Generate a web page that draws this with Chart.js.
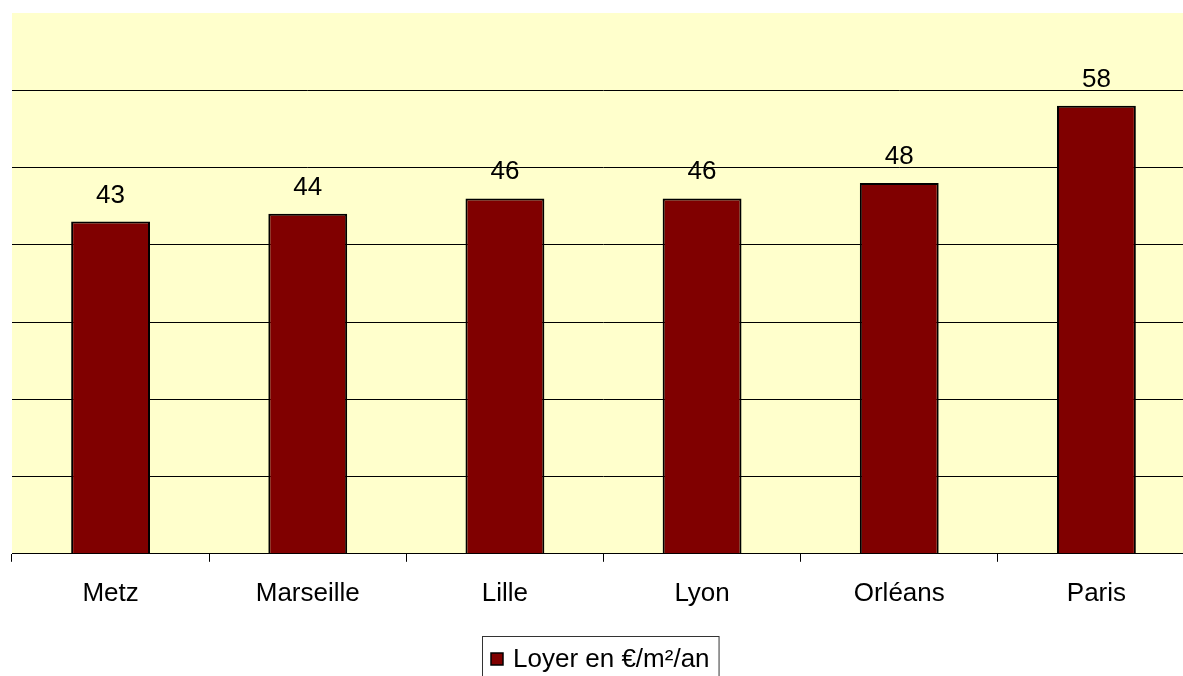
<!DOCTYPE html>
<html>
<head>
<meta charset="utf-8">
<script src="https://cdn.jsdelivr.net/npm/chart.js@4.4.0/dist/chart.umd.min.js"></script>
<style>
  html, body { margin: 0; padding: 0; background: #fff; overflow: hidden; }
  #wrap { width: 1195px; height: 676px; }
</style>
</head>
<body>
<div id="wrap"><canvas id="loyerChart"></canvas></div>
<script>
const villes = ["Metz", "Marseille", "Lille", "Lyon", "Orléans", "Paris"];
const loyers = [43, 44, 46, 46, 48, 58];
const serieLabel = "Loyer en €/m²/an";

const fontFamily = "'Liberation Sans', Arial, sans-serif";

// fond jaune de la zone de tracé
const plotBg = {
  id: 'plotBg',
  beforeDraw(chart) {
    const { ctx, chartArea: a } = chart;
    ctx.save();
    ctx.fillStyle = '#FFFFCC';
    ctx.fillRect(a.left, a.top, a.right - a.left, a.bottom - a.top);
    ctx.restore();
  }
};

// valeurs au-dessus des barres
const valueLabels = {
  id: 'valueLabels',
  afterDatasetsDraw(chart) {
    const ctx = chart.ctx;
    const meta = chart.getDatasetMeta(0);
    ctx.save();
    ctx.font = '26px ' + fontFamily;
    ctx.fillStyle = '#000';
    ctx.textAlign = 'center';
    ctx.textBaseline = 'alphabetic';
    meta.data.forEach((bar, i) => {
      ctx.fillText(chart.data.datasets[0].data[i], bar.x, bar.y - 19);
    });
    ctx.restore();
  }
};

// légende encadrée en bas
const boxLegend = {
  id: 'boxLegend',
  afterDraw(chart) {
    const ctx = chart.ctx;
    const ds = chart.data.datasets[0];
    ctx.save();
    ctx.font = '26px ' + fontFamily;
    const tw = ctx.measureText(ds.label).width;
    const w = 8 + 13 + 9 + tw + 10;
    const x = 482;
    const y = 636;
    ctx.fillStyle = '#fff';
    ctx.fillRect(x, y, w, 60);
    ctx.strokeStyle = '#333';
    ctx.lineWidth = 1;
    ctx.strokeRect(x + 0.5, y + 0.5, w, 60);
    ctx.fillStyle = ds.backgroundColor;
    ctx.fillRect(x + 9, 653, 12, 12);
    ctx.strokeStyle = '#000';
    ctx.lineWidth = 1.5;
    ctx.strokeRect(x + 9, 653, 12, 12);
    ctx.fillStyle = '#000';
    ctx.textBaseline = 'alphabetic';
    ctx.textAlign = 'left';
    ctx.fillText(ds.label, x + 31, 667);
    ctx.restore();
  }
};

new Chart(document.getElementById('loyerChart'), {
  type: 'bar',
  data: {
    labels: villes,
    datasets: [{
      label: serieLabel,
      data: loyers,
      backgroundColor: '#800000',
      borderColor: '#000',
      borderWidth: 2,
      barPercentage: 0.4,
      categoryPercentage: 1
    }]
  },
  options: {
    responsive: true,
    maintainAspectRatio: false,
    animation: false,
    layout: { padding: { left: 12, top: 13, right: 0, bottom: 51 } },
    plugins: {
      legend: { display: false },
      tooltip: { enabled: false }
    },
    scales: {
      x: {
        grid: {
          offset: true,
          drawOnChartArea: false,
          drawTicks: true,
          tickLength: 8,
          color: '#000'
        },
        border: { display: true, color: '#000', width: 1 },
        ticks: {
          color: '#000',
          padding: 16,
          font: { size: 26, family: fontFamily }
        }
      },
      y: {
        min: 0,
        max: 70,
        ticks: { display: false, stepSize: 10 },
        border: { display: false },
        grid: {
          drawTicks: false,
          color: c => (c.tick.value === 70 ? 'rgba(0,0,0,0)' : '#000')
        }
      }
    }
  },
  plugins: [plotBg, valueLabels, boxLegend]
});
</script>
</body>
</html>
